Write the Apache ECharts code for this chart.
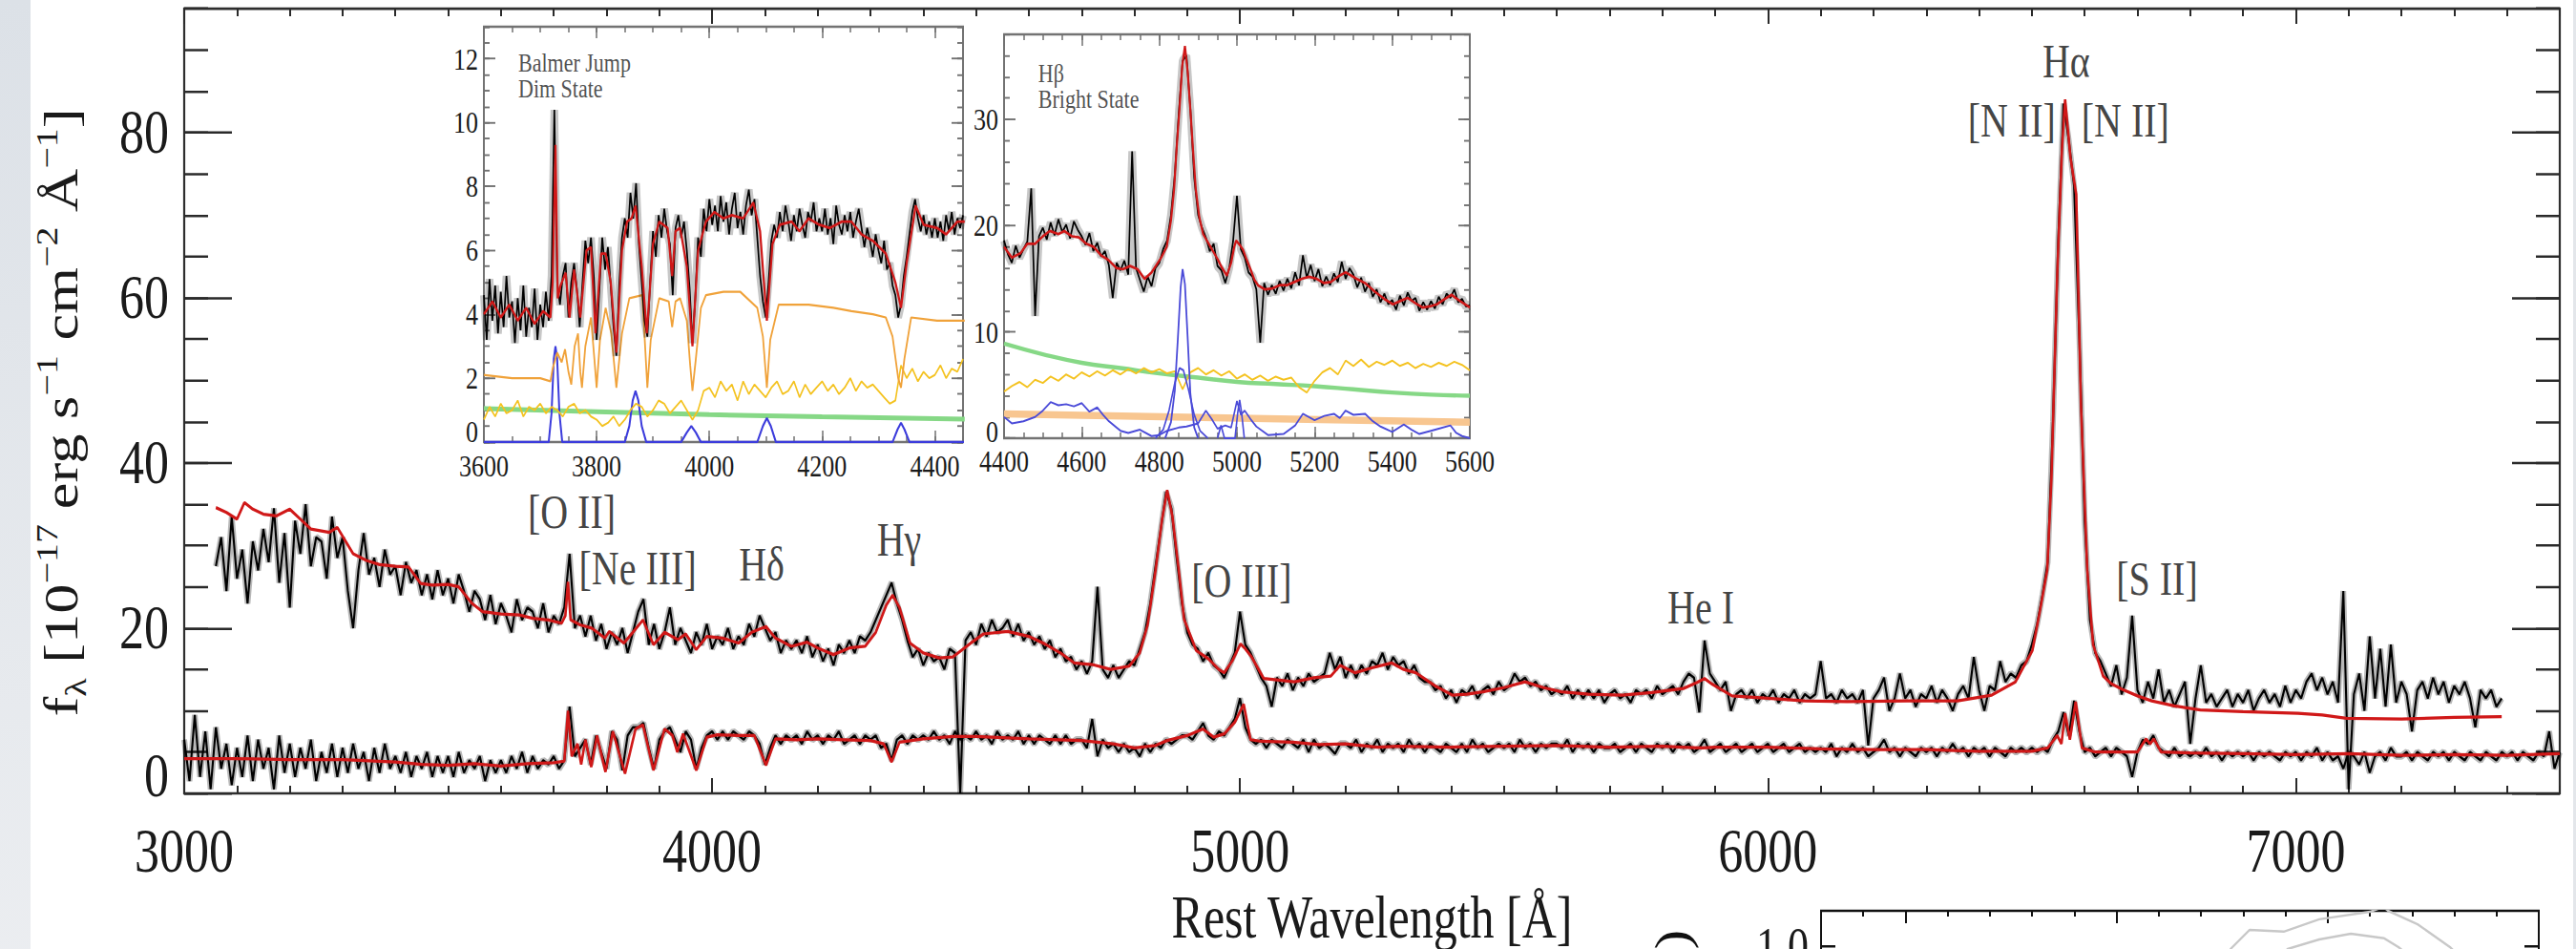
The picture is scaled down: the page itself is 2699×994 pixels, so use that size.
<!DOCTYPE html>
<html>
<head>
<meta charset="utf-8">
<script src="https://cdn.jsdelivr.net/npm/echarts@6/dist/echarts.min.js"></script>
<style>
  html, body { margin: 0; padding: 0; background: #fff; width: 2699px; height: 994px; overflow: hidden; }
  #wrap { position: absolute; left: 0; top: 0; width: 2699px; height: 994px; overflow: hidden; }
  /* the figure is drawn on a 2699 x 860 box and stretched 1.25x vertically; the wrapper crops it */
  #chart { width: 2699px; height: 860px; transform: scaleY(1.25); transform-origin: 0 0; }
</style>
</head>
<body>
<div id="wrap"><div id="chart"></div></div>
<script>
// ---------------- spectra (flux in 1e-17 erg/s/cm^2/A) ----------------
// bright state, observed, 10 A bins from 3060 A
const brightStart = 3060, dimStart = 3000, mainStep = 10;
const brightFlux = [
  27.5, 31.0, 24.5, 33.5, 26.0, 29.5, 23.0, 30.5, 27.0, 32.0,
  28.0, 34.5, 25.5, 31.5, 22.5, 33.0, 29.0, 35.0, 27.5, 31.0,
  30.5, 26.0, 33.5, 28.5, 31.0, 24.5, 20.0, 27.0, 31.5, 26.5,
  28.5, 25.0, 29.5, 26.5, 27.5, 24.0, 28.0, 25.5, 27.0, 24.0,
  26.5, 23.5, 27.0, 24.0, 26.0, 23.0, 26.5, 24.5, 22.0, 24.5,
  23.5, 21.0, 24.0, 20.5, 23.0, 21.5, 19.5, 23.5, 21.0, 22.5,
  22.0, 20.0, 23.0, 19.5, 21.5, 20.5, 22.5, 29.0, 20.0, 21.5,
  19.0, 21.5, 18.5, 20.5, 17.5, 19.5, 18.0, 20.0, 17.0, 19.5,
  22.0, 23.5, 18.0, 20.5, 17.5, 19.5, 22.5, 18.0, 20.0, 18.5,
  17.0, 19.5, 18.0, 20.5, 17.5, 19.0, 18.0, 20.0, 17.5, 19.0,
  18.0, 20.5, 19.0, 21.5, 20.0, 18.5, 19.5, 17.0, 18.5, 17.5,
  18.5, 17.0, 19.0, 16.5, 18.0, 16.0, 17.5, 15.5, 18.0, 17.0,
  18.5, 17.0, 19.0, 18.5, 19.5, 21.0, 22.5, 24.0, 25.5, 23.0,
  21.0, 18.5, 16.5, 17.5, 15.5, 17.0, 16.0, 16.5, 15.0, 17.5,
  17.0, 0.0, 18.5, 19.5, 18.0, 20.5, 19.0, 21.0, 19.5, 20.0,
  21.0, 19.0, 20.5, 18.5, 19.5, 18.0, 19.0, 17.5, 18.5, 16.5,
  17.5, 16.0, 16.5, 15.0, 16.0, 14.5, 16.0, 25.0, 15.0, 14.0,
  15.5, 14.0, 15.0, 16.0, 15.5, 17.5, 19.5, 23.0, 27.5, 32.0,
  36.5, 34.5, 28.5, 23.0, 19.5, 18.0, 17.5, 16.0, 17.0, 15.5,
  15.0, 14.0, 15.5, 17.0, 22.0, 18.0, 17.0, 15.5, 14.0, 13.0,
  10.5, 14.0, 13.0, 14.5, 12.5, 14.0, 13.0, 14.5, 13.5, 14.0,
  14.5, 17.0, 15.0, 16.5, 14.0, 15.5, 14.0, 15.5, 14.5, 16.0,
  15.5, 17.0, 15.0, 16.5, 15.5, 16.0, 14.5, 15.5, 14.0, 13.5,
  13.5, 12.5, 13.0, 11.5, 12.5, 11.0, 12.5, 12.0, 13.0, 11.5,
  12.5, 13.0, 12.0, 13.5, 12.5, 13.0, 14.5, 13.5, 14.0, 13.0,
  13.5, 12.5, 13.0, 12.0, 12.5, 12.0, 13.0, 11.5, 12.5, 11.5,
  12.5, 11.5, 12.5, 11.0, 12.0, 12.5, 11.5, 12.0, 11.0, 12.5,
  12.0, 12.5, 11.5, 13.0, 12.0, 12.5, 13.0, 12.0, 13.5, 14.5,
  14.0, 9.8, 18.5, 14.5, 13.5, 12.5, 13.5, 10.0, 12.0, 12.5,
  11.5, 12.5, 11.0, 12.0, 11.5, 12.5, 11.0, 12.0, 11.5, 12.5,
  11.0, 12.0, 11.5, 12.0, 16.0, 11.5, 12.0, 11.0, 12.5, 11.5,
  12.0, 11.0, 12.5, 5.8, 11.5, 12.5, 14.0, 10.0, 11.5, 14.5,
  11.5, 12.5, 10.5, 12.0, 11.5, 13.0, 11.0, 12.5, 11.5, 10.0,
  12.0, 13.0, 11.5, 16.5, 12.5, 10.0, 13.0, 12.5, 16.0, 13.5,
  14.5, 14.0, 15.5, 16.0, 18.0, 20.5, 24.0, 28.0, 45.0, 67.0,
  83.5, 79.0, 73.5, 55.0, 33.0, 21.0, 17.0, 16.0, 14.5, 13.0,
  15.5, 12.0, 14.0, 21.5, 12.5, 11.0, 13.5, 11.5, 15.0, 11.0,
  12.5, 10.5, 12.0, 13.5, 6.0, 11.5, 15.5, 11.0, 12.0, 10.5,
  11.5, 12.5, 10.5, 12.0, 11.0, 12.5, 10.0, 11.5, 12.5, 11.0,
  12.0, 10.5, 13.0, 11.0, 12.5, 11.5, 13.5, 14.5, 12.5, 14.0,
  12.0, 13.5, 11.0, 24.5, 0.5, 12.0, 14.5, 10.0, 19.0, 11.5,
  17.5, 10.5, 18.0, 11.0, 13.5, 12.0, 7.5, 12.5, 13.5, 11.5,
  14.0, 12.0, 13.5, 11.0, 13.0, 12.0, 13.5, 11.5, 8.0, 12.5,
  11.5, 12.5, 10.5, 11.5
];
// bright state, fitted model [wavelength, flux]
const brightModel = [
  [3060,34.6],[3080,34.0],[3100,33.2],[3114,35.2],[3130,34.4],[3150,33.8],[3175,33.6],[3200,34.4],
  [3220,33.2],[3240,32.0],[3275,31.6],[3290,32.2],[3305,30.6],[3320,29.0],[3345,28.2],[3370,27.7],
  [3400,27.5],[3425,27.4],[3448,25.4],[3470,25.2],[3500,25.3],[3520,25.0],[3545,23.0],[3565,22.0],
  [3600,21.7],[3635,21.6],[3660,21.2],[3690,21.0],[3715,20.6],[3722,21.5],[3727,25.6],[3732,21.0],
  [3750,20.4],[3772,20.0],[3797,18.8],[3805,19.6],[3833,18.2],[3850,19.5],[3869,21.0],[3889,18.0],
  [3910,19.5],[3935,18.6],[3950,19.3],[3970,17.4],[3990,19.0],[4020,18.8],[4050,18.2],[4075,19.5],
  [4102,20.2],[4120,18.8],[4150,17.8],[4180,18.3],[4200,17.6],[4230,16.8],[4260,17.6],[4290,17.8],
  [4310,19.5],[4330,22.8],[4342,24.0],[4355,22.5],[4375,18.2],[4400,17.0],[4430,16.4],[4456,16.5],
  [4490,18.2],[4514,19.3],[4560,19.6],[4600,19.0],[4630,18.1],[4660,17.0],[4686,15.8],[4720,15.6],
  [4755,15.0],[4790,15.4],[4810,17.0],[4825,20.4],[4840,27.0],[4852,33.0],[4862,36.7],[4872,33.5],
  [4884,27.0],[4894,21.1],[4917,17.3],[4940,16.3],[4960,15.0],[4970,14.6],[4985,16.0],[5001,18.1],
  [5010,17.5],[5022,16.5],[5045,13.9],[5103,13.5],[5140,14.0],[5172,14.2],[5190,15.5],[5218,14.6],
  [5250,15.2],[5287,15.8],[5310,15.0],[5333,14.6],[5370,13.0],[5402,11.9],[5430,12.0],[5460,12.3],
  [5500,12.8],[5540,13.5],[5575,12.8],[5609,12.3],[5660,12.0],[5724,11.9],[5780,12.2],[5840,12.7],
  [5865,13.4],[5880,13.9],[5895,13.2],[5932,11.8],[6000,11.5],[6070,11.2],[6150,11.1],[6264,11.2],
  [6359,11.2],[6424,11.9],[6469,13.5],[6501,17.3],[6515,22.0],[6529,27.0],[6537,38.0],[6548,62.7],
  [6557,78.0],[6563,84.0],[6573,77.0],[6584,72.5],[6593,47.0],[6605,27.0],[6616,18.0],[6635,14.2],
  [6650,13.3],[6671,12.6],[6700,11.8],[6727,11.2],[6770,10.6],[6819,10.1],[6900,9.9],[7004,9.7],
  [7050,9.5],[7096,9.1],[7200,9.0],[7300,9.2],[7390,9.3]
];
// dim state, observed, 10 A bins from 3000 A
const dimFlux = [
  6.5, 1.5, 9.5, 2.0, 7.5, 0.5, 8.0, 3.0, 6.0, 1.0,
  5.5, 2.0, 7.0, 1.5, 6.5, 3.0, 5.5, 0.5, 7.0, 2.5,
  6.0, 2.0, 5.5, 3.0, 6.5, 1.5, 5.0, 2.5, 6.0, 2.0,
  5.5, 2.5, 6.0, 3.0, 5.0, 1.5, 5.5, 2.5, 6.0, 3.0,
  4.5, 2.5, 5.0, 2.0, 4.5, 3.0, 5.0, 2.0, 4.5, 2.5,
  4.5, 2.0, 5.0, 2.5, 4.0, 3.0, 4.5, 1.5, 4.0, 2.5,
  4.0, 2.5, 4.5, 3.0, 5.0, 2.5, 4.5, 3.0, 4.0, 3.5,
  4.5, 3.0, 4.0, 10.5, 4.5, 5.5, 6.5, 3.5, 7.0, 5.0,
  3.0, 7.5, 6.5, 2.8, 7.0, 8.0, 8.0, 8.5, 5.5, 3.0,
  6.5, 7.5, 8.0, 6.5, 5.0, 7.5, 6.5, 3.0, 5.5, 7.0,
  7.5, 6.5, 7.5, 6.5, 7.5, 7.0, 6.5, 7.5, 7.0, 6.0,
  3.5, 5.5, 7.0, 6.0, 7.0, 6.5, 7.0, 6.0, 7.5, 6.5,
  7.0, 6.0, 7.0, 6.5, 7.5, 6.0, 6.5, 7.0, 6.0, 7.0,
  6.5, 7.0, 5.5, 6.0, 4.0, 6.5, 7.0, 6.0, 7.0, 6.5,
  7.0, 6.5, 7.5, 6.5, 7.0, 6.0, 7.5, 6.5, 7.0, 6.5,
  7.5, 6.5, 7.0, 6.0, 7.5, 6.5, 7.0, 6.5, 7.5, 6.0,
  7.0, 6.0, 7.0, 6.5, 6.0, 7.0, 6.0, 7.0, 6.0, 6.5,
  6.5, 5.5, 9.0, 4.5, 6.5, 5.5, 6.0, 5.0, 6.0, 5.0,
  5.5, 4.5, 6.0, 5.0, 6.0, 5.5, 6.5, 6.0, 6.5, 7.0,
  7.0, 6.5, 7.5, 8.5, 7.0, 6.5, 7.5, 7.0, 8.0, 9.0,
  11.5, 8.0, 6.5, 6.0, 6.5, 5.5, 6.5, 6.0, 5.5, 6.5,
  6.0, 5.5, 6.5, 5.0, 6.5, 5.5, 6.0, 5.5, 4.8, 6.0,
  6.0, 5.5, 6.5, 5.0, 6.0, 5.5, 6.5, 5.0, 6.0, 5.5,
  6.0, 5.0, 6.5, 5.5, 6.0, 5.0, 6.0, 5.5, 5.0, 6.0,
  5.5, 5.0, 6.0, 5.0, 6.5, 5.5, 6.0, 5.0, 5.5, 6.0,
  5.5, 6.0, 5.0, 6.5, 5.5, 6.0, 5.0, 6.0, 5.5, 6.0,
  6.0, 5.5, 6.5, 5.0, 6.0, 5.5, 6.0, 5.0, 6.0, 5.5,
  5.5, 6.0, 5.0, 5.5, 6.0, 5.0, 6.0, 5.5, 5.0, 6.0,
  5.5, 6.0, 5.0, 6.0, 5.5, 6.0, 5.0, 5.5, 6.5, 5.0,
  5.5, 6.0, 5.0, 5.5, 6.0, 5.0, 5.5, 6.0, 5.0, 5.5,
  6.0, 5.0, 5.5, 6.0, 5.0, 5.5, 6.0, 5.0, 5.5, 5.0,
  5.5, 5.0, 6.0, 4.5, 5.5, 5.0, 6.0, 5.0, 5.5, 4.5,
  5.0, 5.5, 6.5, 5.0, 5.5, 4.5, 5.5, 5.0, 4.5, 5.5,
  5.0, 5.5, 4.5, 5.5, 5.0, 6.0, 5.0, 5.5, 4.5, 5.5,
  5.0, 5.5, 4.5, 5.5, 5.0, 4.5, 5.5, 5.0, 5.5, 5.0,
  5.5, 5.0, 5.5, 5.0, 6.5, 7.5, 9.8, 7.0, 11.2, 7.5,
  5.0, 5.5, 4.5, 5.0, 5.5, 4.5, 5.5, 5.0, 4.5, 2.0,
  5.0, 6.5, 6.0, 7.0, 5.5, 5.0, 4.5, 5.5, 4.5, 5.0,
  4.5, 5.0, 4.5, 5.5, 4.5, 5.0, 4.0, 5.0, 4.5, 5.0,
  4.5, 5.0, 4.0, 5.0, 4.5, 5.0, 4.5, 4.0, 5.0, 4.5,
  5.0, 4.0, 5.0, 4.5, 5.5, 4.0, 5.0, 4.0, 4.5, 3.0,
  5.0, 4.5, 3.5, 5.0, 2.5, 4.5, 5.0, 4.0, 5.5, 4.5,
  4.5, 5.0, 4.0, 5.0, 4.5, 4.0, 5.0, 4.5, 5.0, 4.0,
  5.0, 4.5, 4.0, 5.0, 4.5, 4.0, 5.0, 4.5, 4.0, 5.0,
  4.5, 5.0, 4.0, 5.0, 4.5, 4.0, 5.0, 4.5, 7.5, 3.0,
  5.0
];
// dim state, fitted model [wavelength, flux]
const dimModel = [
  [3000,4.2],[3100,4.2],[3200,4.1],[3300,4.1],[3400,3.8],[3450,3.5],[3500,3.4],[3550,3.6],
  [3600,3.3],[3650,3.6],[3700,3.7],[3720,3.9],[3727,10.0],[3734,4.5],[3745,6.0],[3752,3.5],
  [3760,6.5],[3771,3.2],[3782,7.0],[3798,2.6],[3812,7.5],[3835,2.4],[3855,7.8],[3869,8.3],
  [3889,2.8],[3910,7.8],[3925,7.0],[3934,5.0],[3945,7.2],[3970,2.8],[3990,6.8],[4010,7.1],
  [4050,7.0],[4080,7.0],[4102,3.4],[4120,6.6],[4160,6.5],[4200,6.6],[4250,6.5],[4300,6.4],
  [4325,6.0],[4340,3.8],[4355,6.2],[4400,6.6],[4456,6.9],[4500,6.9],[4600,6.6],[4700,6.4],
  [4760,6.0],[4800,5.5],[4840,5.8],[4862,6.4],[4900,7.0],[4930,7.8],[4950,6.8],[4970,7.2],
  [4990,8.6],[5007,10.8],[5020,6.5],[5040,6.3],[5100,6.2],[5150,5.9],[5200,6.0],[5260,5.6],
  [5300,5.7],[5400,5.6],[5500,5.7],[5600,5.8],[5700,5.6],[5800,5.7],[5876,5.5],[5900,5.6],
  [6000,5.6],[6100,5.4],[6200,5.3],[6300,5.3],[6400,5.1],[6500,5.1],[6530,5.5],[6548,7.0],
  [6556,6.0],[6563,9.7],[6572,6.5],[6583,11.1],[6595,5.5],[6620,5.0],[6700,5.0],[6716,6.6],
  [6724,6.0],[6731,6.6],[6745,5.0],[6800,4.9],[6900,4.8],[7000,4.7],[7100,4.8],[7200,4.6],
  [7300,4.7],[7400,4.6],[7500,4.8]
];
// emission-line labels [text, wavelength, flux]
const lineLabels = [
  ['[O II]', 3734, 34.0], ['[Ne III]', 3859, 27.2], ['H\u03b4', 4094, 27.7], ['H\u03b3', 4354, 30.7],
  ['[O III]', 5003, 25.7], ['He I', 5873, 22.5], ['[S II]', 6737, 25.9],
  ['H\u03b1', 6565, 88.6], ['[N II]', 6462, 81.4], ['[N II]', 6677, 81.4]
];

// ---------------- Balmer jump, dim state ----------------
const balmerStart = 3600, balmerStep = 5;
const balmerFlux = [
  4.6, 3.2, 5.1, 3.8, 4.9, 3.4, 4.7, 3.6, 5.2, 3.9, 4.4, 3.1, 4.5, 3.5, 4.9, 3.3, 4.2, 3.6, 4.8, 3.2,
  4.3, 3.6, 4.7, 3.8, 5.2, 10.4, 5.0, 4.3, 5.2, 5.6, 3.9, 5.0, 5.6, 4.8, 3.6, 5.0, 6.3, 5.6, 6.4, 5.2,
  3.2, 4.8, 6.4, 5.4, 6.1, 4.9, 3.6, 2.7, 4.9, 6.4, 7.0, 6.4, 7.8, 7.0, 8.1, 6.2, 5.0, 3.8, 3.3, 5.0,
  6.6, 5.8, 7.1, 6.4, 7.3, 6.6, 6.2, 4.6, 6.7, 7.1, 6.4, 6.9, 6.0, 4.8, 3.1, 4.5, 6.4, 5.8, 7.3, 6.6,
  7.6, 6.8, 7.4, 6.6, 7.7, 6.9, 7.5, 6.5, 7.3, 7.8, 6.7, 7.2, 6.5, 7.4, 7.9, 7.1, 7.6, 6.4, 5.2, 4.4,
  3.9, 5.0, 6.3, 6.8, 6.4, 7.2, 6.6, 7.4, 6.9, 6.3, 7.1, 6.6, 7.3, 6.8, 6.4, 7.2, 6.9, 7.5, 6.6, 7.0,
  6.6, 7.3, 6.5, 7.0, 6.2, 7.4, 6.8, 6.5, 7.1, 6.6, 7.2, 6.4, 6.9, 7.3, 6.7, 6.1, 6.7, 6.3, 5.8, 6.5,
  6.0, 5.6, 6.3, 5.4, 5.6, 4.9, 4.6, 3.9, 4.3, 5.2, 5.8, 6.5, 7.2, 7.6, 7.0, 6.6, 7.1, 6.5, 6.9, 6.4,
  7.0, 6.4, 6.9, 6.3, 7.1, 6.6, 7.2, 6.5, 7.0, 6.7, 7.1
];
const balmerModel = [
  [3600,4.0],[3615,4.4],[3630,3.9],[3645,4.3],[3660,3.8],[3675,4.2],[3690,3.7],[3705,4.1],
  [3718,3.9],[3722,5.0],[3727,9.3],[3731,4.5],[3736,4.9],[3745,5.3],[3752,3.9],[3760,5.4],
  [3771,3.9],[3782,6.0],[3790,6.1],[3798,3.4],[3808,5.9],[3816,5.9],[3825,5.0],[3835,2.8],
  [3845,6.0],[3854,6.9],[3862,7.0],[3869,7.4],[3880,5.5],[3889,3.4],[3900,6.2],[3911,6.9],
  [3926,6.7],[3934,5.2],[3940,6.6],[3948,6.7],[3960,5.5],[3970,3.0],[3980,6.0],[3994,6.9],
  [4009,7.2],[4025,7.0],[4040,7.1],[4060,7.0],[4078,7.5],[4090,6.6],[4102,3.8],[4112,6.2],
  [4125,6.8],[4146,6.9],[4160,6.6],[4176,7.0],[4195,6.8],[4214,6.7],[4235,6.9],[4252,6.9],
  [4270,6.5],[4290,6.3],[4313,5.9],[4330,5.0],[4340,4.2],[4350,5.6],[4366,7.4],[4380,6.8],
  [4404,6.7],[4420,6.5],[4440,6.9],[4453,6.9]
];
// host-galaxy starlight component
const balmerStellar = [
  [3600,2.1],[3650,2.0],[3700,2.0],[3718,1.9],[3722,2.3],[3730,2.8],[3738,2.5],[3744,2.9],
  [3750,2.2],[3755,1.8],[3761,3.0],[3767,3.4],[3771,2.2],[3774,1.7],[3780,3.0],[3790,3.9],
  [3796,2.6],[3800,1.7],[3806,3.2],[3816,4.2],[3826,3.4],[3835,1.7],[3845,3.4],[3858,4.5],
  [3881,4.6],[3886,3.0],[3890,1.7],[3896,3.2],[3911,4.5],[3928,4.4],[3934,3.6],[3940,4.4],
  [3948,4.5],[3960,3.8],[3966,2.4],[3970,1.6],[3976,2.6],[3985,4.2],[3994,4.6],[4025,4.7],
  [4055,4.7],[4085,4.2],[4095,3.3],[4102,1.7],[4108,3.2],[4123,4.3],[4176,4.3],[4220,4.2],
  [4252,4.1],[4290,4.0],[4313,3.9],[4325,3.3],[4335,2.0],[4340,1.7],[4346,2.6],[4358,3.9],
  [4404,3.8],[4453,3.8]
];
// Fe II / Balmer pseudo-continuum, 10 A bins from 3600 A
const balmerFeStart = 3600, balmerFeStep = 10;
const balmerFe = [
  0.7, 1.1, 0.8, 1.2, 0.9, 1.0, 1.3, 0.8, 1.1, 1.0,
  1.2, 0.9, 1.1, 1.0, 0.8, 1.1, 1.2, 0.9, 1.0, 0.8,
  0.7, 0.5, 0.6, 0.8, 0.5, 0.7, 1.0, 1.2, 1.1, 0.8,
  1.0, 1.3, 1.2, 0.9, 1.1, 1.3, 1.0, 0.7, 1.0, 1.6,
  1.7, 1.4, 1.9, 1.6, 1.8, 1.3, 1.9, 1.5, 1.8, 1.6,
  1.4, 1.7, 1.9, 1.5, 1.6, 1.9, 1.4, 1.8, 1.5, 1.7,
  1.9, 1.6, 1.8, 1.5, 1.7, 2.0, 1.6, 1.9, 1.7, 1.8,
  1.6, 1.4, 1.2, 1.3, 2.4, 2.0, 2.3, 1.9, 2.2, 2.0,
  2.1, 2.4, 2.0, 2.3, 2.2, 2.6
];
const balmerPowerLaw = [[3600,1.05],[3800,0.95],[4000,0.86],[4200,0.79],[4453,0.72]];
const balmerLines = [
  [3600,0],[3715,0],[3720,0.9],[3724,2.6],[3727,3.0],[3730,2.6],[3734,0.9],[3739,0],
  [3850,0],[3858,0.5],[3864,1.3],[3869,1.6],[3874,1.3],[3880,0.5],[3888,0],
  [3950,0],[3960,0.3],[3968,0.5],[3976,0.3],[3985,0],
  [4085,0],[4095,0.5],[4102,0.75],[4109,0.5],[4118,0],
  [4325,0],[4334,0.4],[4340,0.6],[4346,0.4],[4355,0],[4453,0]
];

// ---------------- H-beta, bright state ----------------
const hbStart = 4400, hbStep = 10;
const hbFlux = [
  18.6, 17.3, 16.5, 18.1, 17.0, 17.8, 18.5, 23.5, 11.5, 19.0,
  19.8, 18.7, 20.3, 19.1, 20.6, 19.4, 20.1, 18.8, 20.4, 19.6,
  19.0, 18.2, 19.3, 17.6, 18.4, 17.1, 17.6, 16.3, 13.2, 16.5,
  15.8, 16.7, 15.4, 27.0, 16.0, 14.9, 13.8, 15.2, 14.3, 16.0,
  16.5, 17.8, 18.6, 21.0, 24.8, 30.5, 35.5, 36.0, 31.0, 24.5,
  21.0, 19.8, 18.9, 17.6, 18.3, 16.2, 15.8, 14.6, 16.0, 18.5,
  22.8, 17.8, 17.0, 15.6, 15.2, 14.0, 9.0, 14.6, 13.5, 14.4,
  13.6, 14.8, 13.9, 15.0, 14.1, 15.6, 14.4, 17.2, 15.1, 16.3,
  14.8, 15.9, 14.3, 15.2, 14.4, 15.5, 14.7, 16.6, 15.0, 16.0,
  15.4, 14.2, 15.1, 13.8, 14.6, 13.3, 14.0, 12.8, 13.6, 12.6,
  13.0, 12.1, 13.4, 12.5, 13.7, 12.9, 13.2, 12.0, 12.8, 12.1,
  12.9, 12.2, 13.3, 12.6, 13.6, 13.2, 14.0, 12.8, 13.1, 12.4,
  12.5
];
const hbModel = [
  [4400,18.0],[4420,17.0],[4442,17.4],[4460,18.3],[4480,18.3],[4500,19.0],[4518,19.5],[4540,19.2],
  [4555,19.5],[4575,19.0],[4593,18.9],[4612,18.3],[4631,18.0],[4650,17.2],[4668,16.8],[4690,16.0],
  [4706,15.9],[4725,16.2],[4744,15.9],[4762,15.0],[4780,15.6],[4791,16.2],[4805,17.0],[4819,18.0],
  [4830,20.5],[4838,23.4],[4845,27.5],[4852,31.0],[4859,35.0],[4866,36.9],[4873,34.5],[4880,30.9],
  [4887,27.0],[4894,23.4],[4903,20.8],[4913,19.2],[4932,18.0],[4951,16.8],[4962,16.0],[4974,15.3],
  [4985,16.5],[4993,18.0],[4998,18.6],[5007,18.2],[5016,17.7],[5025,16.8],[5035,15.9],[5045,14.9],
  [5054,14.4],[5072,14.0],[5092,14.1],[5110,14.4],[5129,14.4],[5148,14.7],[5167,15.0],[5186,15.2],
  [5205,15.0],[5224,14.6],[5242,14.7],[5260,15.2],[5280,15.6],[5295,15.3],[5308,15.0],[5330,14.6],
  [5355,13.8],[5380,13.1],[5402,12.6],[5420,12.9],[5440,13.2],[5460,12.7],[5478,12.3],[5497,12.4],
  [5515,12.6],[5535,13.1],[5553,13.5],[5575,12.9],[5600,12.3]
];
const hbPowerLaw = [
  [4400,8.9],[4500,7.9],[4600,7.1],[4700,6.6],[4800,6.1],[4900,5.7],[5000,5.3],
  [5100,5.1],[5200,4.9],[5300,4.6],[5400,4.3],[5500,4.1],[5600,4.0]
];
// host-galaxy starlight, 20 A bins from 4400 A
const hbHostStart = 4400, hbHostStep = 20;
const hbHost = [
  4.4, 4.9, 5.3, 4.8, 5.5, 5.2, 5.8, 5.4, 6.0, 5.6,
  6.2, 5.8, 6.3, 5.9, 6.4, 6.0, 6.5, 6.1, 6.6, 6.2,
  6.5, 6.1, 6.3, 4.6, 6.2, 6.6, 6.0, 6.4, 5.9, 6.3,
  5.6, 6.0, 5.5, 5.9, 5.4, 5.8, 5.5, 5.7, 4.8, 4.3,
  5.4, 6.2, 6.6, 6.0, 7.3, 6.8, 7.4, 6.7, 7.2, 6.9,
  7.3, 6.8, 7.1, 6.6, 7.0, 6.7, 7.1, 6.8, 7.2, 6.9,
  6.4
];
const hbBalmerCont = [[4400,2.3],[5600,1.5]];
const hbFeII = [
  [4400,2.0],[4420,1.4],[4450,1.6],[4480,2.0],[4500,2.6],[4520,3.4],[4540,3.1],[4560,3.2],
  [4580,3.0],[4600,3.3],[4620,2.5],[4640,2.9],[4655,2.2],[4670,1.6],[4690,1.0],[4700,0.7],
  [4720,0.5],[4750,0.8],[4780,0.2],[4800,0.3],[4820,0.7],[4850,1.0],[4870,1.1],[4900,1.4],
  [4920,2.6],[4935,1.8],[4950,0.9],[4970,1.2],[4985,1.0],[5000,3.5],[5010,2.2],[5020,2.6],
  [5035,1.8],[5050,1.1],[5080,0.3],[5120,0.4],[5150,1.2],[5170,2.3],[5190,1.9],[5200,1.7],
  [5225,2.1],[5250,2.3],[5265,1.9],[5280,2.6],[5300,2.2],[5330,2.3],[5350,1.6],[5370,1.1],
  [5400,0.6],[5430,1.3],[5450,0.8],[5470,0.4],[5500,0.7],[5520,0.9],[5550,1.2],[5565,0.5],
  [5580,0.2],[5600,0.0]
];
const hbBroad = [
  [4815,0],[4830,1.5],[4840,4.5],[4848,9.5],[4855,14.2],[4860,15.9],[4866,14.5],[4873,9.5],
  [4880,4.2],[4890,1.0],[4900,0]
];
const hbWide = [
  [4790,0],[4810,0.8],[4825,2.6],[4840,5.2],[4852,6.6],[4862,6.4],[4875,4.6],[4890,2.2],
  [4905,0.7],[4925,0]
];
const hbOIII = [
  [4950,0],[4956,0.8],[4959,1.2],[4962,0.8],[4968,0],[4995,0],[5002,2.4],[5007,3.6],
  [5012,2.4],[5019,0]
];

// ---------------- neighbouring panel (top edge only) ----------------
const contourOuter = [
  [7.60,0.970],[7.70,0.992],[8.15,1.046],[8.96,1.041],[9.80,1.076],[11.00,1.097],[11.32,1.111],
  [11.43,1.100],[12.13,1.062],[12.90,0.997],[13.08,0.976]
];
const contourInner = [
  [8.90,0.970],[9.05,0.992],[9.80,1.019],[10.55,1.035],[11.34,1.022],[11.68,0.997],[11.79,0.986]
];

// ---------------- tick values ----------------
const mainXTicks = [3000, 4000, 5000, 6000, 7000];
const mainYTicks = [0, 20, 40, 60, 80];
const balmerXTicks = [3600, 3800, 4000, 4200, 4400];
const balmerYTicks = [0, 2, 4, 6, 8, 10, 12];
const hbXTicks = [4400, 4600, 4800, 5000, 5200, 5400, 5600];
const hbYTicks = [0, 10, 20, 30];
const panelXTicks = [0, 5, 10, 15];
const panelYTicks = [1.0];

// ---------------- layout / style ----------------
const K = 1.25;                 // vertical stretch of the drawing box
const F = 'Liberation Serif';
const binned = (start, step, arr) => arr.map((v, i) => [start + i * step, v]);

function axis(grid, min, max, extra) {
  return Object.assign({
    type: 'value', gridIndex: grid, min: min, max: max,
    axisLine: { show: false, onZero: false }, splitLine: { show: false },
    axisLabel: { show: false }, axisPointer: { show: false }
  }, extra);
}
function ticks(len, color, width, values) {
  const t = { show: true, inside: true, length: len, lineStyle: { color: color, width: width } };
  if (values) t.customValues = values;
  return t;
}
function labels(list, size, margin, zeroPad, digits) {
  return {
    show: true, customValues: list, fontFamily: F, fontSize: size, color: '#1a1a1a', margin: margin,
    formatter: function (v) {
      if (list.indexOf(v) < 0) return '';
      const s = digits ? v.toFixed(digits) : String(v);
      return (v === 0 && zeroPad) ? '{z|' + s + '}' : s;
    },
    rich: { z: { fontFamily: F, fontSize: size, color: '#1a1a1a', padding: [0, 0, zeroPad || 0, 0] } }
  };
}
// four x axes + four y axes (major / minor on each side) for a framed panel
function frameAxes(grid, xr, yr, o) {
  const xs = [
    axis(grid, xr[0], xr[1], { position: 'bottom', interval: o.xMajor, axisTick: ticks(o.xLen, o.c, o.w, o.xTicks),
      axisLabel: o.xLabels ? labels(o.xTicks, o.fs, o.xMargin) : { show: false } }),
    axis(grid, xr[0], xr[1], { position: 'bottom', interval: o.xMinor, axisTick: ticks(o.xLen / 2, o.c, o.w) }),
    axis(grid, xr[0], xr[1], { position: 'top', interval: o.xMajor, axisTick: ticks(o.xLen, o.c, o.w, o.xTicks) }),
    axis(grid, xr[0], xr[1], { position: 'top', interval: o.xMinor, axisTick: ticks(o.xLen / 2, o.c, o.w) })
  ];
  const ys = [
    axis(grid, yr[0], yr[1], { position: 'left', interval: o.yMajor, axisTick: ticks(o.yLen, o.c, o.w, o.yTicks),
      axisLabel: labels(o.yTicks, o.fs, o.yMargin, o.zeroPad) }),
    axis(grid, yr[0], yr[1], { position: 'left', interval: o.yMinor, axisTick: ticks(o.yLen / 2, o.c, o.w) }),
    axis(grid, yr[0], yr[1], { position: 'right', interval: o.yMajor, axisTick: ticks(o.yLen, o.c, o.w, o.yTicks) }),
    axis(grid, yr[0], yr[1], { position: 'right', interval: o.yMinor, axisTick: ticks(o.yLen / 2, o.c, o.w) })
  ];
  return { xs: xs, ys: ys };
}

const mainAx = frameAxes(0, [3000, 7500], [0, 95], {
  xMajor: 1000, xMinor: 100, yMajor: 20, yMinor: 5, xTicks: mainXTicks, yTicks: mainYTicks,
  xLen: 12.8, yLen: 50, c: '#2a2a2a', w: 2, fs: 52, xLabels: true, xMargin: 22, yMargin: 16, zeroPad: 30
});
mainAx.xs[0].name = 'Rest Wavelength [\u00c5]';
mainAx.xs[0].nameLocation = 'middle';
mainAx.xs[0].nameGap = 73;
mainAx.xs[0].nameTextStyle = { fontFamily: F, fontSize: 50, color: '#1a1a1a' };

const balmerAx = frameAxes(1, [3600, 4450], [0, 13], {
  xMajor: 200, xMinor: 50, yMajor: 2, yMinor: 0.5, xTicks: balmerXTicks, yTicks: balmerYTicks,
  xLen: 9.6, yLen: 12, c: '#707070', w: 1.5, fs: 26, xLabels: true, xMargin: 7, yMargin: 6, zeroPad: 18
});
const hbAx = frameAxes(2, [4400, 5600], [0, 38], {
  xMajor: 200, xMinor: 50, yMajor: 10, yMinor: 2, xTicks: hbXTicks, yTicks: hbYTicks,
  xLen: 9.6, yLen: 12, c: '#707070', w: 1.5, fs: 26, xLabels: true, xMargin: 6, yMargin: 6, zeroPad: 12
});
const panelXs = [
  axis(3, -2, 15, { position: 'top', interval: 5, axisTick: ticks(10.4, '#111', 2, panelXTicks) }),
  axis(3, -2, 15, { position: 'top', interval: 1, axisTick: ticks(4.8, '#111', 2) })
];
const panelYs = [
  axis(3, 0.9, 1.1, { position: 'left', interval: 0.1, axisTick: ticks(15, '#111', 2, panelYTicks),
    axisLabel: labels(panelYTicks, 44, 13, 0, 1) }),
  axis(3, 0.9, 1.1, { position: 'right', interval: 0.1, axisTick: ticks(15, '#111', 2, panelYTicks) })
];

function line(ax, data, color, width, z, extra) {
  return Object.assign({
    type: 'line', xAxisIndex: ax, yAxisIndex: ax, data: data, symbol: 'none', silent: true,
    lineStyle: { color: color, width: width }, z: z, animation: false
  }, extra || {});
}
function textMarks(ax, items, style) {
  return {
    type: 'scatter', xAxisIndex: ax, yAxisIndex: ax, symbolSize: 0, silent: true, z: 10,
    data: items.map(function (d) { return { name: d[0], value: [d[1], d[2]] }; }),
    label: Object.assign({ show: true, position: 'inside', formatter: '{b}', fontFamily: F, color: '#111' }, style)
  };
}

const brightPts = binned(brightStart, mainStep, brightFlux);
const dimPts = binned(dimStart, mainStep, dimFlux);
const balmerPts = binned(balmerStart, balmerStep, balmerFlux);
const hbPts = binned(hbStart, hbStep, hbFlux);

const series = [
  // main panel (axis index 0)
  line(0, brightPts, 'rgba(0,0,0,0.28)', 6, 2),
  line(0, brightPts, '#000', 2.1, 3),
  line(0, brightModel, '#d01818', 2.6, 4),
  line(0, dimPts, 'rgba(0,0,0,0.28)', 6, 2),
  line(0, dimPts, '#000', 2.1, 3),
  line(0, dimModel, '#d01818', 2.6, 4),
  textMarks(0, lineLabels, { fontSize: 40 }),
  // Balmer-jump inset (axis index 4)
  line(4, balmerPowerLaw, '#86d886', 4, 3, { smooth: true }),
  line(4, balmerLines, '#3c3cdc', 2, 3),
  line(4, binned(balmerFeStart, balmerFeStep, balmerFe), '#f4c21f', 1.6, 3),
  line(4, balmerStellar, '#f0a23a', 1.8, 3),
  line(4, balmerPts, 'rgba(0,0,0,0.22)', 8, 4),
  line(4, balmerPts, '#000', 1.7, 5),
  line(4, balmerModel, '#d01818', 2.2, 6),
  textMarks(4, [['Balmer Jump\nDim State', 3661, 12.3]],
    { fontSize: 22, align: 'left', verticalAlign: 'top', lineHeight: 22, color: '#222' }),
  // H-beta inset (axis index 8)
  line(8, hbBalmerCont, '#f8c690', 6, 3),
  line(8, hbPowerLaw, '#86d886', 3.5, 3, { smooth: true }),
  line(8, binned(hbHostStart, hbHostStep, hbHost), '#f4c21f', 1.6, 3),
  line(8, hbFeII, '#4a4ad8', 1.6, 3),
  line(8, hbWide, '#4a4ad8', 1.6, 3),
  line(8, hbBroad, '#4a4ad8', 1.8, 3),
  line(8, hbOIII, '#4a4ad8', 1.6, 3),
  line(8, hbPts, 'rgba(0,0,0,0.22)', 8, 4),
  line(8, hbPts, '#000', 1.7, 5),
  line(8, hbModel, '#d01818', 2.2, 6),
  textMarks(8, [['H\u03b2\nBright State', 4488, 35.6]],
    { fontSize: 22, align: 'left', verticalAlign: 'top', lineHeight: 22, color: '#222' }),
  // neighbouring panel (axis index 12)
  line(12, contourOuter, '#c8c8c8', 2, 3),
  line(12, contourInner, '#c8c8c8', 2, 3)
];

const yTitle = '{a|f}{sub|\u03bb}{a| [10}{sup|\u221217}{a| erg s}{sup|\u22121}{a| cm}{sup|\u22122}{a| \u00c5}{sup|\u22121}{a|]}';

const option = {
  backgroundColor: '#fff',
  animation: false,
  grid: [
    { left: 193, top: 9 / K, width: 2489, height: 822 / K, show: true, backgroundColor: '#fff', borderColor: '#2e2e2e', borderWidth: 2.2 },
    { left: 507, top: 28 / K, width: 502, height: 435 / K, show: true, backgroundColor: '#fff', borderColor: '#737373', borderWidth: 2 },
    { left: 1052, top: 36 / K, width: 488, height: 423 / K, show: true, backgroundColor: '#fff', borderColor: '#737373', borderWidth: 2 },
    // 0.2 units of the neighbouring panel span 74 px on screen
    { left: 1908, top: 954 / K, width: 752, height: 74 / K, show: true, backgroundColor: 'rgba(0,0,0,0)', borderColor: '#111', borderWidth: 2 }
  ],
  xAxis: mainAx.xs.concat(balmerAx.xs, hbAx.xs, panelXs),
  yAxis: mainAx.ys.concat(balmerAx.ys, hbAx.ys, panelYs),
  series: series,
  graphic: [
    { type: 'rect', silent: true, shape: { x: 0, y: 0, width: 32, height: 860 },
      style: { fill: { type: 'linear', x: 0, y: 0, x2: 0, y2: 1,
        colorStops: [{ offset: 0, color: '#dce1e7' }, { offset: 1, color: '#eceef1' }] } } },
    { type: 'rect', silent: true, shape: { x: 2696, y: 0, width: 3, height: 860 }, style: { fill: '#e3e6ea' } },
    { type: 'text', silent: true, x: 64, y: 432 / K, rotation: Math.PI / 2,
      style: {
        text: yTitle, fill: '#1a1a1a', align: 'center', verticalAlign: 'middle',
        textAlign: 'center', textVerticalAlign: 'middle',
        rich: {
          a: { fontFamily: F, fontSize: 50, lineHeight: 62, fill: '#1a1a1a' },
          sup: { fontFamily: F, fontSize: 32, verticalAlign: 'top', fill: '#1a1a1a' },
          sub: { fontFamily: F, fontSize: 32, verticalAlign: 'bottom', fill: '#1a1a1a' }
        }
      } },
    { type: 'text', silent: true, x: 1752, y: 984 / K, rotation: Math.PI / 2,
      style: { text: ')', fontFamily: F, fontSize: 50, fill: '#111', align: 'center', verticalAlign: 'middle',
        textAlign: 'center', textVerticalAlign: 'middle' } }
  ]
};

const chart = echarts.init(document.getElementById('chart'), null, { renderer: 'svg', width: 2699, height: 860 });
chart.setOption(option);
</script>
</body>
</html>
